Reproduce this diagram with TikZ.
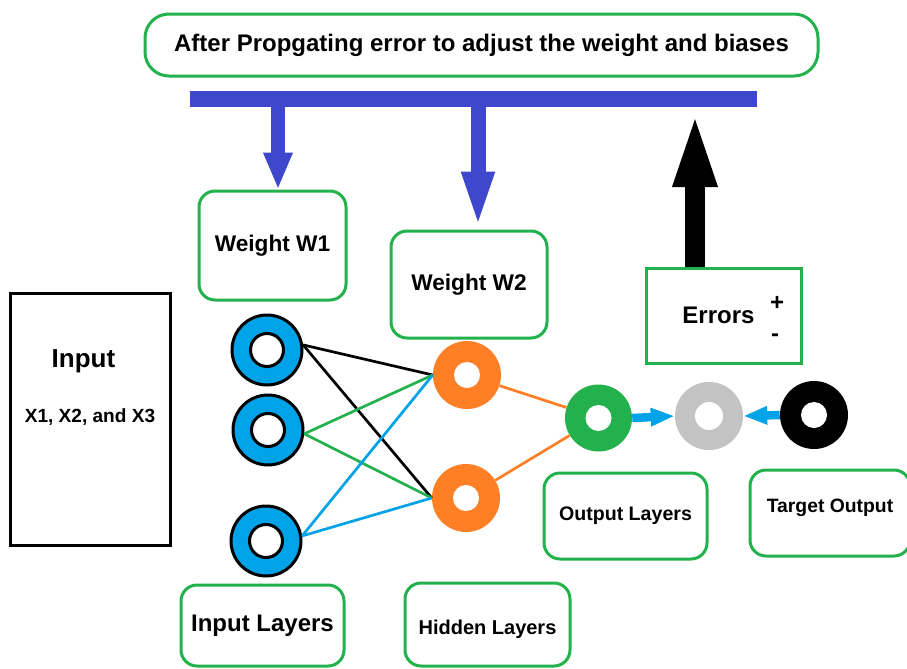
\documentclass[tikz,border=0pt]{standalone}
\usepackage{fontspec}
\setmainfont{Liberation Sans}
\usetikzlibrary{arrows.meta}

\definecolor{boxgreen}{RGB}{34,177,76}
\definecolor{barblue}{RGB}{63,72,204}
\definecolor{skyblue}{RGB}{0,162,232}
\definecolor{nodeorange}{RGB}{255,127,39}
\definecolor{nodegray}{RGB}{195,195,195}

% one screen pixel = 0.75pt
\newcommand\pxl[1]{#1*0.75pt}

\begin{document}
\begin{tikzpicture}[x=0.75pt,y=-0.75pt,
  txt/.style={font=\bfseries\fontsize{#1}{#1}\selectfont},
  boxsize/.style 2 args={minimum width=\pxl{#1}, minimum height=\pxl{#2}, inner sep=0pt},
  roundbox/.style={draw=boxgreen, line width=\pxl{3}, rounded corners=\pxl{16}},
  plainbox/.style={draw=#1, line width=\pxl{3}},
  inneuron/.style={circle, fill=skyblue, draw=black, line width=\pxl{3},
    minimum size=\pxl{70}, inner sep=0pt,
    path picture={\filldraw[fill=white, draw=black, line width=\pxl{3}]
      (path picture bounding box.center) circle[radius=\pxl{16.5}];}},
  neuron/.style n args={3}{circle, fill=#1, minimum size=\pxl{#2}, inner sep=0pt,
    path picture={\fill[white] (path picture bounding box.center) circle[radius=\pxl{#3}];}},
  link/.style={line width=\pxl{2.7}},
  flow/.style={skyblue, line width=\pxl{8.5}, -{Triangle[length=\pxl{24}, width=\pxl{17}]}},
]
\useasboundingbox (0,0) rectangle (907,668);

% caption and the update bar
\node[roundbox, rounded corners=\pxl{24}, boxsize={673}{62}, txt=18] (top) at (481.5,45)
  {After Propgating error to adjust the weight and biases};
\node[fill=barblue, boxsize={567}{16}] (bar) at (473.5,99) {};

% weight boxes
\node[roundbox, boxsize={147}{109}, txt=17] (w1) at (272.5,245.5) {Weight W1};
\node[roundbox, boxsize={156}{107}, txt=17] (w2) at (469,284.5) {Weight W2};

% error box
\node[plainbox=boxgreen, rounded corners=0pt, boxsize={155}{95}] (err) at (723.5,315.5) {};
\node[txt=18, anchor=base] (errtxt) at (718.5,323) {Errors};
\node[txt=18, anchor=base] (plus) at (777,310) {+};
\node[txt=18, anchor=base] (minus) at (775,341) {-};

% input box
\node[plainbox=black, boxsize={160}{252}] (inbox) at (90,419) {};
\node[txt=19.5, anchor=base] (intxt) at (83.5,367) {Input};
\node[txt=14.3, anchor=base] (xtxt) at (90,422) {X1, X2, and X3};

% layer captions
\node[roundbox, boxsize={163}{81}, txt=18] (inlay) at (262.5,625.5) {Input Layers};
\node[roundbox, boxsize={165}{83}, txt=15, text height=18pt] (hidlay) at (487.5,624.5) {Hidden Layers};
\node[roundbox, boxsize={163}{86}, txt=14.7] (outlay) at (625.5,516) {Output Layers};
\node[roundbox, boxsize={160}{86}, txt=14.5, text depth=\pxl{14}] (tgtlay) at (830,513) {Target Output};

% feedback arrows between bar, weights and errors
\coordinate (d1) at (278,101);
\coordinate (d2) at (478,101);
\coordinate (u1) at (695,107);
\draw[barblue, line width=\pxl{14}, -{Triangle[length=\pxl{37}, width=\pxl{27}]}]
  (d1) -- (d1 |- w1.north);
\draw[barblue, line width=\pxl{15}, -{Triangle[length=\pxl{58}, width=\pxl{29}]}]
  (d2) -- (d2 |- w2.north);
\draw[black, line width=\pxl{20}, -{Triangle[length=\pxl{80}, width=\pxl{38}]}]
  (u1 |- err.north) -- (u1);

% neurons
\node[inneuron] (in1) at (267,350) {};
\node[inneuron] (in2) at (268,430) {};
\node[inneuron] (in3) at (266,541) {};
\node[neuron={nodeorange}{68}{13}] (h1) at (467,375) {};
\node[neuron={nodeorange}{68}{13}] (h2) at (466,498) {};
\node[neuron={boxgreen}{67}{13}] (out) at (598.5,418) {};
\node[neuron={nodegray}{68}{14}] (cmp) at (709,416) {};
\node[neuron={black}{68}{13}] (tgt) at (814,415) {};

% weights between layers
\draw[link, black] (in1.8) -- (h1.west);
\draw[link, black] (in1.8) -- (h2.west);
\draw[link, boxgreen] (in2.-6) -- (h1.west);
\draw[link, boxgreen] (in2.-6) -- (h2.west);
\draw[link, skyblue] (in3.8) -- (h1.west);
\draw[link, skyblue] (in3.8) -- (h2.west);
\draw[link, nodeorange] (h1) -- (out);
\draw[link, nodeorange] (h2) -- (out);

% comparison of output and target
\draw[flow] (out.east) -- (cmp.west);
\draw[flow] (tgt.west) -- (cmp.east);
\end{tikzpicture}
\end{document}
